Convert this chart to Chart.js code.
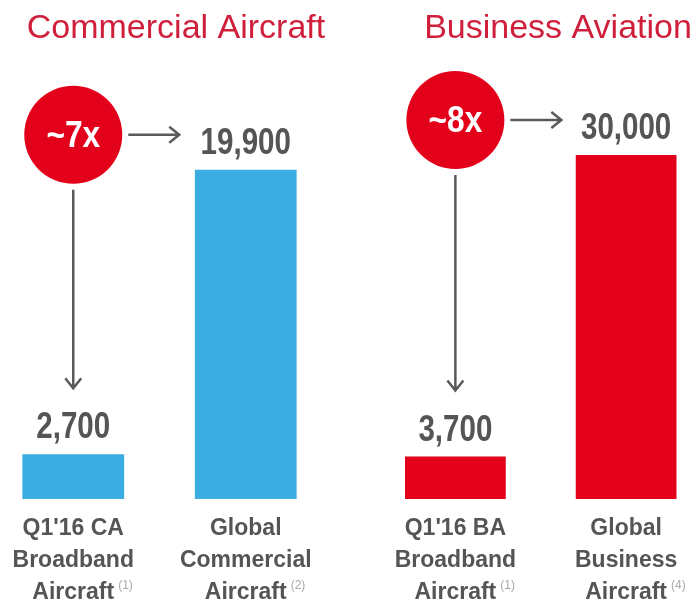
<!DOCTYPE html>
<html>
<head>
<meta charset="utf-8">
<script src="https://cdn.jsdelivr.net/npm/chart.js@4.4.0/dist/chart.umd.min.js"></script>
<style>
	html, body { margin: 0; padding: 0; background: #fff; overflow: hidden; width: 696px; height: 615px; position: relative; }
	.panel { position: absolute; top: 0; height: 629px; }
	#panel-ca { left: -14px; width: 380px; }
	#panel-ba { left: 370px; width: 376px; }
</style>
</head>
<body>
<div class="panel" id="panel-ca"><canvas id="chart-ca"></canvas></div>
<div class="panel" id="panel-ba"><canvas id="chart-ba"></canvas></div>
<script>
const panelTitles = ["Commercial Aircraft", "Business Aviation"];

const caLabels = [["Q1'16 CA", "Broadband", "Aircraft"], ["Global", "Commercial", "Aircraft"]];
const caValues = [2700, 19900];
const caNotes = ["(1)", "(2)"];

const baLabels = [["Q1'16 BA", "Broadband", "Aircraft"], ["Global", "Business", "Aircraft"]];
const baValues = [3700, 30000];
const baNotes = ["(1)", "(4)"];

const labelFont = "'Liberation Sans', Arial, sans-serif";
const textGray = '#555555';
const arrowGray = '#5a5a5a';
const circleRed = '#e2001a';

function drawArrow(ctx, x1, y1, x2, y2) {
	const ang = Math.atan2(y2 - y1, x2 - x1);
	ctx.beginPath();
	ctx.moveTo(x1, y1);
	ctx.lineTo(x2, y2);
	ctx.moveTo(x2 - 10 * Math.cos(ang) + 8 * Math.sin(ang), y2 - 10 * Math.sin(ang) - 8 * Math.cos(ang));
	ctx.lineTo(x2, y2);
	ctx.lineTo(x2 - 10 * Math.cos(ang) - 8 * Math.sin(ang), y2 - 10 * Math.sin(ang) + 8 * Math.cos(ang));
	ctx.stroke();
}

// no condensed face installed, so squeeze the bold face a bit
function narrowText(ctx, text, x, y, squeeze) {
	ctx.save();
	ctx.translate(x, y);
	ctx.scale(squeeze, 1);
	ctx.fillText(text, 0, 0);
	ctx.restore();
}

// title, value labels, the ~Nx bubble with its arrows, footnote marks
const calloutPlugin = {
	id: 'callout',
	afterDraw(chart, args, opts) {
		const ctx = chart.ctx;
		const bars = chart.getDatasetMeta(0).data;
		const values = chart.data.datasets[0].data;
		const area = chart.chartArea;
		ctx.save();

		ctx.fillStyle = '#cf1f3b';
		ctx.font = "34px " + labelFont;
		ctx.textAlign = 'center';
		ctx.textBaseline = 'alphabetic';
		ctx.fillText(opts.title, chart.width / 2, 38);

		ctx.fillStyle = textGray;
		ctx.font = "bold 36px " + labelFont;
		bars.forEach((bar, i) => {
			narrowText(ctx, values[i].toLocaleString('en-US'), bar.x, bar.y - 16, 0.82);
		});

		// footnote marks after the last label line
		ctx.font = "bold 23px " + labelFont;
		const lastLineWidths = chart.data.labels.map(l => ctx.measureText(l[l.length - 1]).width);
		ctx.font = "12px " + labelFont;
		ctx.fillStyle = '#aaaaaa';
		ctx.textAlign = 'left';
		bars.forEach((bar, i) => {
			ctx.fillText(opts.notes[i], bar.x + lastLineWidths[i] / 2 + 4, area.bottom + 90);
		});

		const r = 49;
		const cx = bars[0].x;
		const cy = bars[1].y - 35;
		ctx.fillStyle = circleRed;
		ctx.beginPath();
		ctx.arc(cx, cy, r, 0, Math.PI * 2);
		ctx.fill();

		ctx.fillStyle = '#ffffff';
		ctx.textAlign = 'center';
		ctx.font = "bold 36px " + labelFont;
		narrowText(ctx, '~' + Math.round(values[1] / values[0]) + 'x', cx, cy + 12, 0.88);

		ctx.strokeStyle = arrowGray;
		ctx.lineWidth = 2.5;
		drawArrow(ctx, cx + r + 6, cy, cx + r + 57, cy);
		drawArrow(ctx, cx, cy + r + 6, cx, bars[0].y - 66);

		ctx.restore();
	}
};

function makePanel(canvasId, labels, values, color, title, notes, yMax, padTop, padLeft, padRight) {
	return new Chart(document.getElementById(canvasId), {
		type: 'bar',
		data: {
			labels: labels,
			datasets: [{
				data: values,
				backgroundColor: color,
				barPercentage: 0.59,
				categoryPercentage: 1
			}]
		},
		options: {
			responsive: true,
			maintainAspectRatio: false,
			animation: false,
			layout: { padding: { top: padTop, bottom: 6, left: padLeft, right: padRight } },
			scales: {
				x: {
					grid: { display: false, drawTicks: false },
					border: { display: false },
					ticks: {
						color: textGray,
						padding: 14,
						maxRotation: 0,
						autoSkip: false,
						font: { family: labelFont, size: 23, weight: 'bold', lineHeight: 32 / 23 }
					}
				},
				y: { display: false, min: 0, max: yMax }
			},
			plugins: {
				legend: { display: false },
				tooltip: { enabled: false },
				callout: { title: title, notes: notes }
			}
		},
		plugins: [calloutPlugin]
	});
}

const chartCA = makePanel('chart-ca', caLabels, caValues, '#3cade0', panelTitles[0], caNotes, 22000, 135, 1, 34);
const chartBA = makePanel('chart-ba', baLabels, baValues, '#e2001a', panelTitles[1], baNotes, 32000, 132, 0, 34.5);
</script>
</body>
</html>
